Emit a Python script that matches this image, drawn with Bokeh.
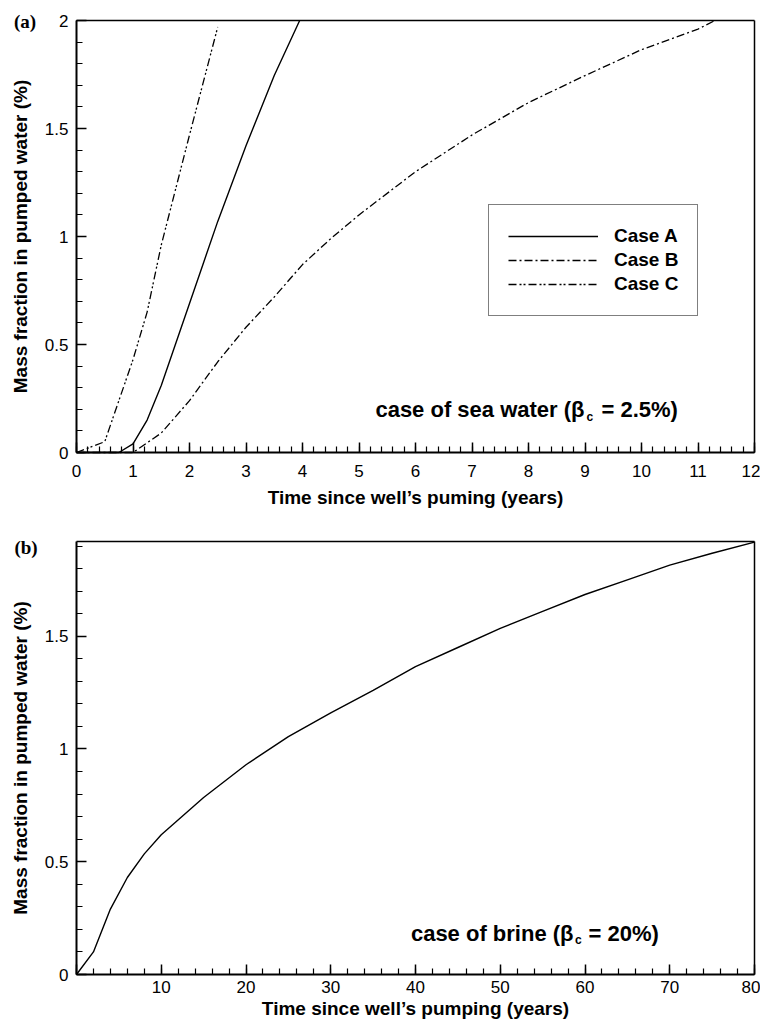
import numpy as np
from bokeh.plotting import figure
from bokeh.models import Range1d, FixedTicker, Legend, LegendItem, Label, LinearAxis
from bokeh.layouts import column
from bokeh.embed import file_html
from bokeh.resources import INLINE

# ---------------- data ----------------
# (a) sea water
case_a_x = [0, 0.75, 1.0, 1.25, 1.5, 1.75, 2.0, 2.25, 2.5, 3.0, 3.5, 3.95]
case_a_y = [0, 0.0, 0.04, 0.15, 0.31, 0.50, 0.69, 0.88, 1.07, 1.42, 1.745, 2.0]

case_b_x = [0, 1.0, 1.5, 2.0, 2.5, 3.0, 3.5, 4.0, 4.5, 5.0, 6.0, 7.0, 8.0, 9.0, 10.0, 11.0, 11.3]
case_b_y = [0, 0.0, 0.09, 0.24, 0.42, 0.58, 0.72, 0.87, 0.99, 1.10, 1.30, 1.47, 1.62, 1.745, 1.865, 1.96, 2.0]

case_c_x = [0, 0.5, 1.0, 1.25, 1.5, 2.0, 2.5]
case_c_y = [0, 0.05, 0.43, 0.65, 0.96, 1.47, 1.97]

# (b) brine
brine_x = [0, 2, 4, 6, 8, 10, 15, 20, 25, 30, 35, 40, 45, 50, 55, 60, 65, 70, 75, 80]
brine_y = [0, 0.10, 0.29, 0.43, 0.535, 0.62, 0.785, 0.93, 1.055, 1.16, 1.26, 1.365,
           1.45, 1.535, 1.61, 1.685, 1.75, 1.815, 1.868, 1.917]

legend_labels = ["Case A", "Case B", "Case C"]
x1_ticks = list(range(0, 13))
y_ticks = [0, 0.5, 1, 1.5, 2]
y_tick_labels = {0: "0", 0.5: "0.5", 1: "1", 1.5: "1.5", 2: "2"}
x2_ticks = list(range(0, 81, 10))
x2_tick_labels = {0: "", 10: "10", 20: "20", 30: "30", 40: "40", 50: "50", 60: "60", 70: "70", 80: "80"}

xlabel_a = "Time since well\u2019s puming (years)"
xlabel_b = "Time since well\u2019s pumping (years)"
ylabel = "Mass fraction in pumped water (%)"

SANS = "Liberation Sans"
SERIF = "Liberation Serif"
TICK_FS = "17px"
LABEL_FS = "19px"
ANN_FS = "22px"

# ---------------- layout geometry (pixels) ----------------
W = 760
AX_L, AX_R = 76, 754            # left / right edge of the plotting box


def make_fig(h, x0, x1, y0, y1, top_px, bot_px):
    """Figure whose frame fills the canvas; the data box x0..x1, y0..y1
    is mapped to pixels AX_L..AX_R, top_px..bot_px."""
    sx = (AX_R - AX_L) / (x1 - x0)
    sy = (bot_px - top_px) / (y1 - y0)
    xr = Range1d(x0 - AX_L / sx, x1 + (W - AX_R) / sx)
    yr = Range1d(y0 - (h - bot_px) / sy, y1 + top_px / sy)
    p = figure(width=W, height=h, output_backend="svg", toolbar_location=None,
               x_range=xr, y_range=yr, min_border=0, title=None)
    p.grid.visible = False
    p.outline_line_color = None
    p.background_fill_color = "white"
    p.border_fill_color = "white"
    return p


def style_axes(p, x0, x1, y0, y1, xt, xminor, yt, yminor, xlab_over=None):
    xa, ya = p.xaxis[0], p.yaxis[0]
    xa.fixed_location = y0
    ya.fixed_location = x0
    xa.bounds = (x0, x1)
    ya.bounds = (y0, y1)
    xa.ticker = FixedTicker(ticks=xt, minor_ticks=xminor)
    ya.ticker = FixedTicker(ticks=yt, minor_ticks=yminor)
    ya.major_label_overrides = y_tick_labels
    if xlab_over:
        xa.major_label_overrides = xlab_over
    for ax in (xa, ya):
        ax.axis_line_color = "black"
        ax.axis_line_width = 2
        ax.major_tick_in = 10
        ax.major_tick_out = 0
        ax.minor_tick_in = 6
        ax.minor_tick_out = 0
        ax.major_tick_line_width = 1.5
        ax.minor_tick_line_width = 1.2
        ax.major_tick_line_color = "black"
        ax.minor_tick_line_color = "black"
        ax.major_label_text_font = SANS
        ax.major_label_text_font_size = TICK_FS
        ax.major_label_text_color = "black"
        ax.axis_label_text_font = SANS
        ax.axis_label_text_font_size = LABEL_FS
        ax.axis_label_text_font_style = "bold"
        ax.axis_label_text_color = "black"
    ya.major_label_standoff = 8
    ya.axis_label_standoff = 11
    # top and right edges of the box
    top = LinearAxis(fixed_location=y1, bounds=(x0, x1), ticker=FixedTicker(ticks=[]),
                     axis_line_color="black", axis_line_width=1.5,
                     major_tick_line_color=None, minor_tick_line_color=None,
                     major_label_text_font_size="0px")
    right = LinearAxis(fixed_location=x1, bounds=(y0, y1), ticker=FixedTicker(ticks=[]),
                       axis_line_color="black", axis_line_width=1.5,
                       major_tick_line_color=None, minor_tick_line_color=None,
                       major_label_text_font_size="0px")
    p.add_layout(top, "above")
    p.add_layout(right, "right")
    return xa, ya


def text(p, x, y, s, size, align="left", baseline="middle", font=SANS):
    p.add_layout(Label(x=x, y=y, text=s, text_font=font, text_font_size=size,
                       text_font_style="bold", text_align=align, text_baseline=baseline,
                       text_color="black"))


# ---------------- top panel (a) ----------------
H1 = 520
TOP1, BOT1 = 20, 452
p1 = make_fig(H1, 0, 12, 0, 2, TOP1, BOT1)
xa1, ya1 = style_axes(p1, 0, 12, 0, 2, x1_ticks, list(np.round(np.arange(0, 12.01, 0.2), 2)),
                      y_ticks, list(np.round(np.arange(0, 2.01, 0.1), 2)))
xa1.axis_label = xlabel_a
ya1.axis_label = ylabel
xa1.major_label_standoff = 12
xa1.axis_label_standoff = 7

ra = p1.line(case_a_x, case_a_y, line_color="black", line_width=1.4)
rb = p1.line(case_b_x, case_b_y, line_color="black", line_width=1.3, line_dash="8 3 2 3")
rc = p1.line(case_c_x, case_c_y, line_color="black", line_width=1.3, line_dash="8 3 2 2 2 3")

legend = Legend(items=[LegendItem(label=legend_labels[0], renderers=[ra]),
                       LegendItem(label=legend_labels[1], renderers=[rb]),
                       LegendItem(label=legend_labels[2], renderers=[rc])],
                location=(488, H1 - 316), padding=19, spacing=0,
                glyph_width=90, glyph_height=24, label_height=24, label_standoff=16,
                label_text_font=SANS, label_text_font_size=LABEL_FS,
                label_text_font_style="bold", label_text_color="black",
                border_line_color="black", border_line_width=1.5,
                background_fill_color="white", background_fill_alpha=1.0)
p1.add_layout(legend)

sx1 = (AX_R - AX_L) / 12.0
sy1 = (BOT1 - TOP1) / 2.0
def d1(px, py):
    return (px - AX_L) / sx1, (BOT1 - py) / sy1

text(p1, *d1(24.5, 21), "(a)", "19px", align="center", font=SERIF)
text(p1, *d1(584, 409), "case of sea water (\u03b2", ANN_FS, align="right")
text(p1, *d1(586, 416), "c", "12px")
text(p1, *d1(601, 409), "= 2.5%)", ANN_FS)

# ---------------- bottom panel (b) ----------------
H2 = 501
TOP2, BOT2 = 541 - H1, 974 - H1
p2 = make_fig(H2, 0, 80, 0, 1.92, TOP2, BOT2)
xa2, ya2 = style_axes(p2, 0, 80, 0, 1.92, x2_ticks, list(range(0, 81, 2)),
                      y_ticks[:4], list(np.round(np.arange(0, 1.92, 0.1), 2)), x2_tick_labels)
ya2.axis_label = ylabel
xa2.major_label_standoff = 6

p2.line(brine_x, brine_y, line_color="black", line_width=1.4)

sx2 = (AX_R - AX_L) / 80.0
sy2 = (BOT2 - TOP2) / 1.92
def d2(px, py):
    return (px - AX_L) / sx2, (BOT2 - (py - H1)) / sy2

text(p2, *d2(25.5, 547), "(b)", "19px", align="center", font=SERIF)
text(p2, *d2(573, 933), "case of brine (\u03b2", ANN_FS, align="right")
text(p2, *d2(574.5, 939), "c", "12px")
text(p2, *d2(588, 933), "= 20%)", ANN_FS)
text(p2, *d2(415, 1008), xlabel_b, LABEL_FS, align="center")

layout = column(p1, p2)
open("out.html", "w").write(file_html(layout, INLINE))
